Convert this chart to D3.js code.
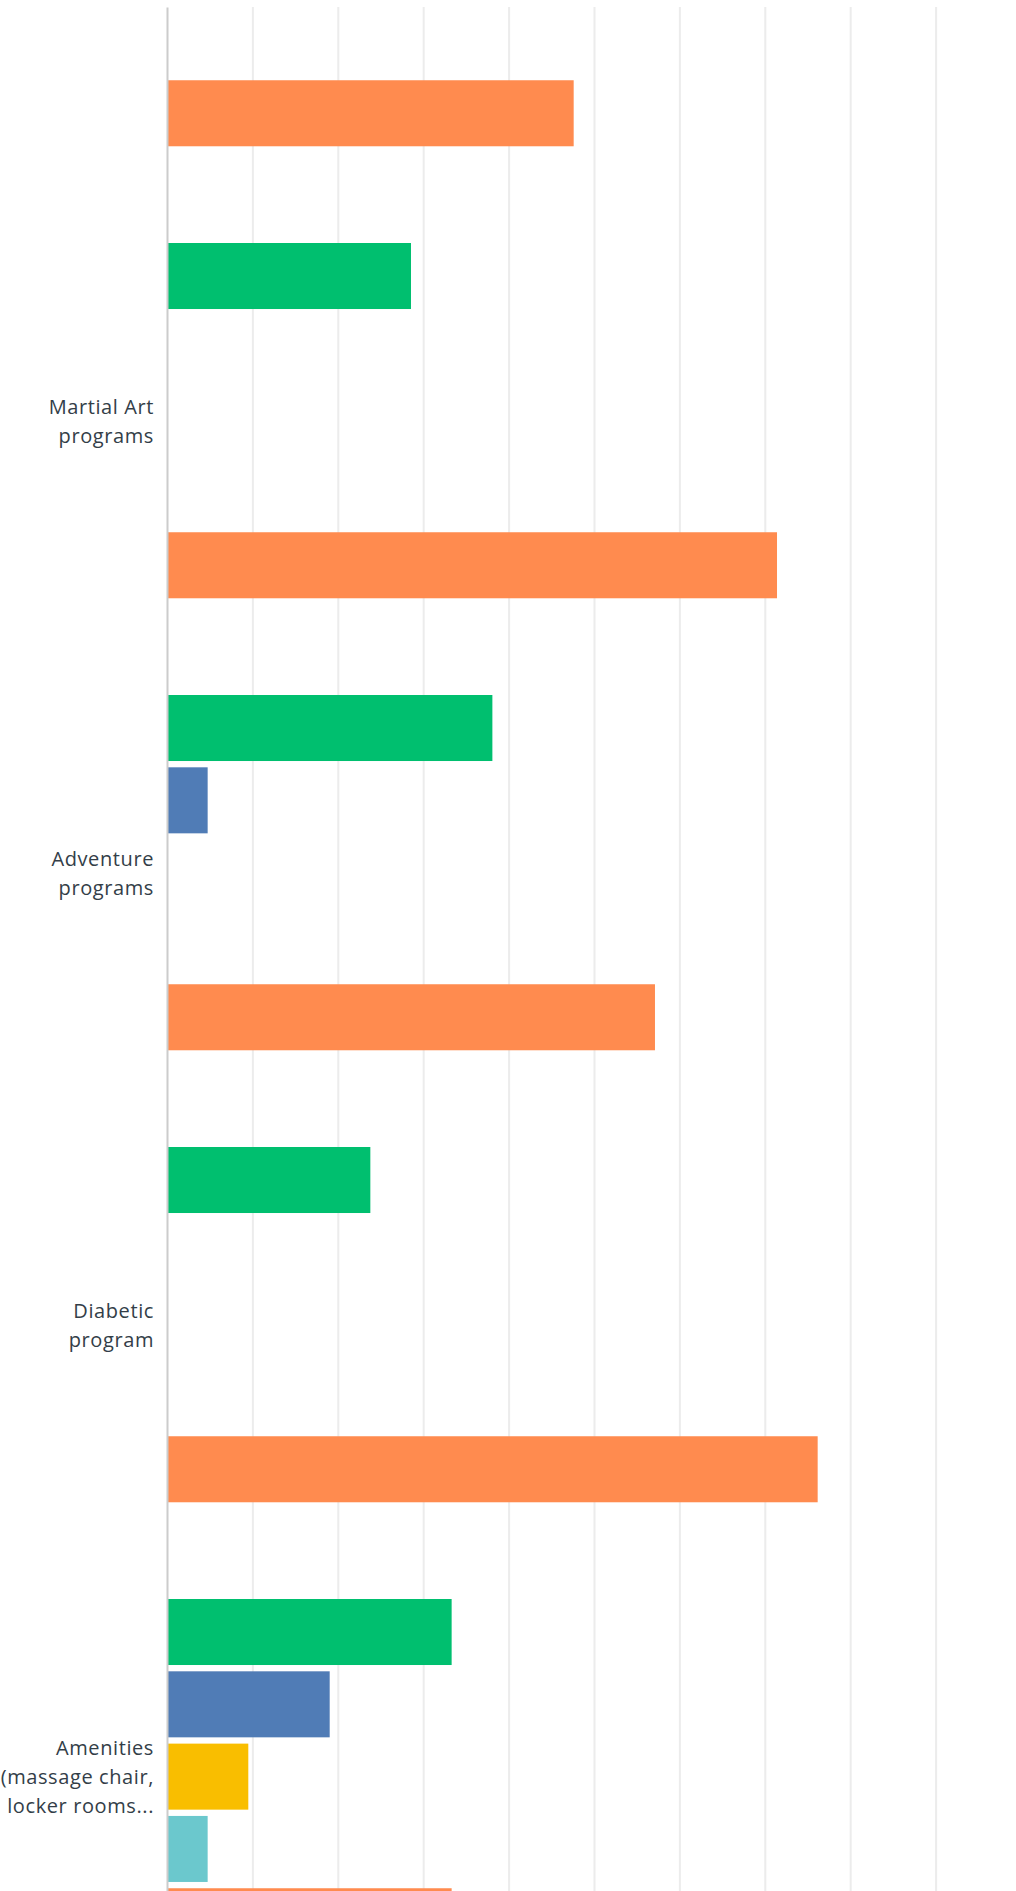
<!DOCTYPE html>
<html>
<head>
<meta charset="utf-8">
<script src="https://cdn.jsdelivr.net/npm/d3@7"></script>
<style>
  body { margin: 0; background: #fff; }
  .label { font-family: "Open Sans", sans-serif; font-size: 20px; letter-spacing: 0.6px; fill: #333e48; }
</style>
</head>
<body>
<div id="chart"></div>
<script>
// categories (the first group is scrolled off the top; only its orange bar shows)
const categories = ['prev', 'Martial Art programs', 'Adventure programs', 'Diabetic program', 'Amenities'];
const labelLines = [
  [],
  ['Martial Art', 'programs'],
  ['Adventure', 'programs'],
  ['Diabetic', 'program'],
  ['Amenities', '(massage chair,', 'locker rooms...']
];
const seriesNames = ['s1', 's2', 's3', 's4', 's5'];
const seriesColors = ['#00bf6f', '#507cb6', '#f9be00', '#6bc8cd', '#ff8b4f'];

// percent values per series, one entry per category
const s1Values = [0, 28.57, 38.10, 23.81, 33.33];
const s2Values = [0, 0, 4.76, 0, 19.05];
const s3Values = [0, 0, 0, 0, 9.52];
const s4Values = [0, 0, 0, 0, 4.76];
const s5Values = [47.62, 71.43, 57.14, 76.19, 33.33];
const gridTicks = [10, 20, 30, 40, 50, 60, 70, 80, 90];

const allValues = [s1Values, s2Values, s3Values, s4Values, s5Values];

const W = 1016, H = 1891;
const x0 = 167, groupStep = 452, groupTop = -209;

const svg = d3.select('#chart').append('svg')
  .attr('width', W)
  .attr('height', H);

const x = d3.scaleLinear()
  .domain([0, 100])
  .range([x0, x0 + 854]);

const y = d3.scaleBand()
  .domain(categories)
  .range([groupTop, groupTop + groupStep * (categories.length - 0.214)])
  .paddingInner(0.214)
  .paddingOuter(0);

const ySeries = d3.scaleBand()
  .domain(seriesNames)
  .range([0, y.bandwidth()])
  .paddingInner(0.087)
  .paddingOuter(0);

// grid lines
svg.append('g')
  .attr('transform', 'translate(0,7)')
  .call(d3.axisTop(x).tickValues(gridTicks).tickSize(-(H - 7)).tickFormat(''))
  .call(g => g.select('.domain').remove())
  .call(g => g.selectAll('.tick line').attr('stroke', '#ececec').attr('stroke-width', 2));

// bars
categories.forEach((cat, ci) => {
  const grp = svg.append('g').attr('transform', `translate(0,${y(cat)})`);
  seriesNames.forEach((s, si) => {
    const v = allValues[si][ci];
    if (!v) return;
    grp.append('rect')
      .attr('x', x(0) + 1)
      .attr('y', ySeries(s))
      .attr('width', x(v) - x(0) - 1)
      .attr('height', ySeries.bandwidth())
      .attr('fill', seriesColors[si]);
  });

  const lines = labelLines[ci];
  const cy = y(cat) + y.bandwidth() / 2 - ySeries.step() * ySeries.paddingInner() / 2;
  const t = svg.append('text')
    .attr('class', 'label')
    .attr('text-anchor', 'end')
    .attr('x', 154)
    .attr('y', cy - (lines.length - 1) * 29 / 2 + 11);
  lines.forEach((ln, li) => {
    t.append('tspan').attr('x', 154).attr('dy', li === 0 ? 0 : 29).text(ln);
  });
});

// vertical axis line
svg.append('g')
  .attr('transform', `translate(${x(0)},0)`)
  .call(d3.axisLeft(d3.scaleLinear().range([7, H])).ticks(0).tickSize(0))
  .call(g => g.select('.domain').attr('stroke', '#cccccc').attr('stroke-width', 2));
</script>
</body>
</html>
